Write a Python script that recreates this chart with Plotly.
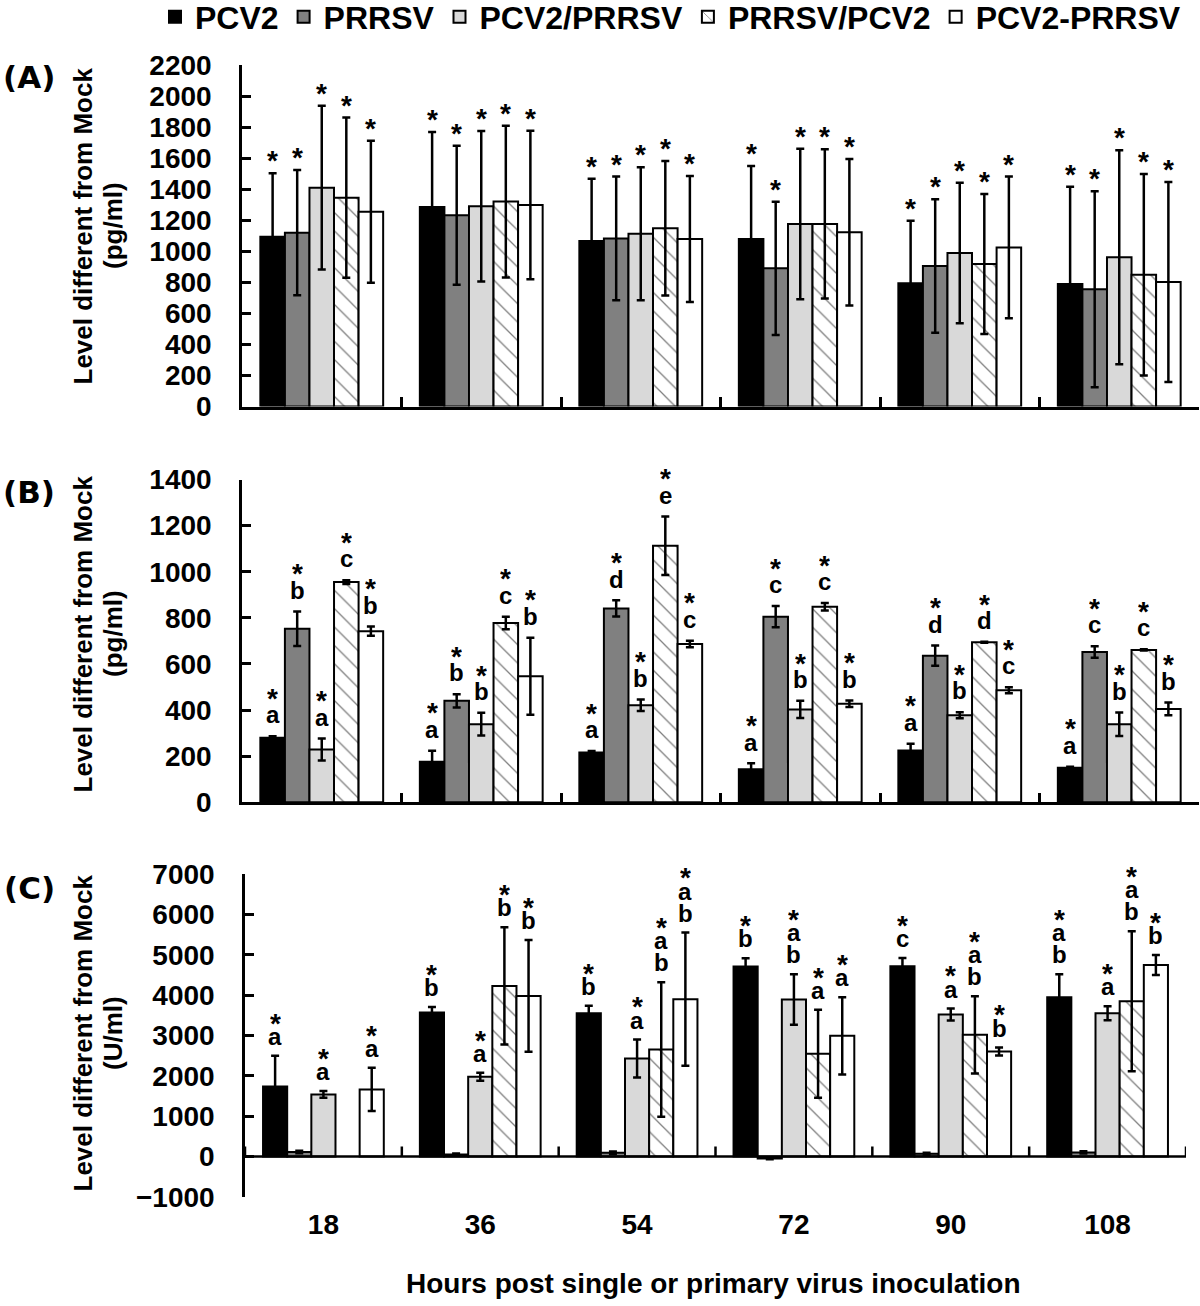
import plotly.graph_objects as go

hours = ["18", "36", "54", "72", "90", "108"]
series = ["PCV2", "PRRSV", "PCV2/PRRSV", "PRRSV/PCV2", "PCV2-PRRSV"]

# Panel A (pg/ml)
A_pcv2 = [1094, 1285, 1066, 1079, 794, 789]
A_prrsv = [1120, 1232, 1083, 890, 905, 755]
A_pcv2_prrsv = [1410, 1290, 1113, 1176, 989, 961]
A_prrsv_pcv2 = [1345, 1320, 1148, 1176, 918, 849]
A_co = [1255, 1298, 1079, 1122, 1025, 802]
A_pcv2_err = [408, 483, 402, 470, 403, 627]
A_prrsv_err = [404, 448, 398, 429, 430, 631]
A_pcv2_prrsv_err = [528, 485, 428, 485, 453, 689]
A_prrsv_pcv2_err = [516, 489, 433, 481, 451, 649]
A_co_err = [457, 479, 406, 472, 456, 644]

# Panel B (pg/ml)
B_pcv2 = [280, 176, 216, 143, 225, 150]
B_prrsv = [753, 440, 841, 805, 636, 652]
B_pcv2_prrsv = [229, 339, 421, 403, 378, 339]
B_prrsv_pcv2 = [955, 778, 1113, 848, 694, 661]
B_co = [742, 547, 687, 427, 486, 405]
B_pcv2_err = [7, 48, 6, 26, 29, 4]
B_prrsv_err = [75, 29, 35, 46, 44, 25]
B_pcv2_prrsv_err = [48, 49, 25, 37, 13, 51]
B_prrsv_pcv2_err = [8, 27, 127, 16, 2, 3]
B_co_err = [20, 167, 14, 14, 13, 28]
B_pcv2_lab = ["a", "a", "a", "a", "a", "a"]
B_prrsv_lab = ["b", "b", "d", "c", "d", "c"]
B_pcv2_prrsv_lab = ["a", "b", "b", "b", "b", "b"]
B_prrsv_pcv2_lab = ["c", "c", "e", "c", "d", "c"]
B_co_lab = ["b", "b", "c", "b", "c", "b"]

# Panel C (U/ml)
C_pcv2 = [1735, 3570, 3554, 4710, 4719, 3950]
C_prrsv = [110, 50, 90, -50, 66, 99]
C_pcv2_prrsv = [1537, 1975, 2430, 3892, 3520, 3554]
C_prrsv_pcv2 = [None, 4231, 2653, 2545, 3016, 3851]
C_co = [1661, 3983, 3901, 2992, 2603, 4752]
C_pcv2_err = [760, 140, 182, 207, 207, 570]
C_prrsv_err = [30, 20, 30, 20, 25, 30]
C_pcv2_prrsv_err = [83, 99, 471, 628, 149, 173]
C_prrsv_pcv2_err = [None, 1455, 1669, 1091, 959, 1735]
C_co_err = [537, 1389, 1653, 958, 99, 248]
C_pcv2_lab = ["a", "b", "b", "b", "c", "ab"]
C_prrsv_lab = [None, None, None, None, None, None]
C_pcv2_prrsv_lab = ["a", "a", "a", "ab", "a", "a"]
C_prrsv_pcv2_lab = [None, "b", "ab", "a", "ab", "ab"]
C_co_lab = ["a", "b", "ab", "a", "b", "b"]

A_means = [A_pcv2, A_prrsv, A_pcv2_prrsv, A_prrsv_pcv2, A_co]
A_errs = [A_pcv2_err, A_prrsv_err, A_pcv2_prrsv_err, A_prrsv_pcv2_err, A_co_err]
A_labs = [[""] * 6 for _ in series]
B_means = [B_pcv2, B_prrsv, B_pcv2_prrsv, B_prrsv_pcv2, B_co]
B_errs = [B_pcv2_err, B_prrsv_err, B_pcv2_prrsv_err, B_prrsv_pcv2_err, B_co_err]
B_labs = [B_pcv2_lab, B_prrsv_lab, B_pcv2_prrsv_lab, B_prrsv_pcv2_lab, B_co_lab]
C_means = [C_pcv2, C_prrsv, C_pcv2_prrsv, C_prrsv_pcv2, C_co]
C_errs = [C_pcv2_err, C_prrsv_err, C_pcv2_prrsv_err, C_prrsv_pcv2_err, C_co_err]
C_labs = [C_pcv2_lab, C_prrsv_lab, C_pcv2_prrsv_lab, C_prrsv_pcv2_lab, C_co_lab]

colors = ["#000000", "#808080", "#d9d9d9", "#ffffff", "#ffffff"]
W, H = 1200, 1306
FONT = "Liberation Sans"
BARGAP = 0.23

# panel geometry in pixels
xdom_px = [(242, 1199), (242, 1199), (245, 1186)]
ydom_px = [(65, 406.5), (479.5, 802.3), (874.3, 1196.7)]
yranges = [[0, 2200], [0, 1400], [-1000, 7000]]
dticks = [200, 200, 1000]

fig = go.Figure()

panels = [(A_means, A_errs, A_labs), (B_means, B_errs, B_labs), (C_means, C_errs, C_labs)]
axis_ids = [("x", "y"), ("x2", "y2"), ("x3", "y3")]

for p, (means, errs, labs) in enumerate(panels):
    xa, ya = axis_ids[p]
    for i, s in enumerate(series):
        pattern = dict(shape="\\", fgcolor="black", bgcolor="white", size=13, solidity=0.1) if i == 3 else dict(shape="")
        fig.add_trace(go.Bar(
            x=hours, y=means[i], name=s, legendgroup=s, showlegend=(p == 0),
            xaxis=xa, yaxis=ya, offsetgroup=str(i),
            marker=dict(color=colors[i], line=dict(color="black", width=2), pattern=pattern),
            error_y=dict(type="data", array=errs[i], visible=True, color="black", thickness=2.5, width=4),
        ))

LETTER_FONT = dict(family=FONT, size=24, color="black", weight="bold")
STAR_FONT = dict(family=FONT, size=28, color="black", weight="bold")

annotations = []
for p, (means, errs, labs) in enumerate(panels):
    xa, ya = axis_ids[p]
    gw = (xdom_px[p][1] - xdom_px[p][0]) / len(hours)
    bw = gw * (1 - BARGAP) / len(series)
    for i in range(len(series)):
        for j, h in enumerate(hours):
            m = means[i][j]
            if m is None:
                continue
            lab = labs[i][j]
            if lab is None:
                continue
            top = m + (errs[i][j] or 0)
            xs = (i - 2) * bw
            if p == 0:
                annotations.append(dict(x=j, y=top, xref=xa, yref=ya, xshift=xs, yshift=-5,
                                        yanchor="bottom", showarrow=False, text="*",
                                        font=STAR_FONT))
                continue
            gapL, stepL, stepS = (12, 23, 15) if p == 1 else (10, 22, 12)
            letters = list(lab)[::-1]
            for k, ch in enumerate(letters):
                base = gapL + k * stepL
                annotations.append(dict(x=j, y=top, xref=xa, yref=ya, xshift=xs, yshift=base - 1.2,
                                        yanchor="bottom", showarrow=False, text=ch, borderpad=0,
                                        height=19, valign="middle", font=LETTER_FONT))
            n = len(letters)
            sbase = gapL + (n - 1) * stepL + stepS
            annotations.append(dict(x=j, y=top, xref=xa, yref=ya, xshift=xs, yshift=sbase + 8.3,
                                    yanchor="bottom", showarrow=False, text="*", borderpad=0,
                                    height=17, valign="top", font=STAR_FONT))

# y-axis titles and panel letters
units = ["(pg/ml)", "(pg/ml)", "(U/ml)"]
title_cy = [226, 634, 1033]
panel_tags = ["(A)", "(B)", "(C)"]
tag_cy = [77, 492, 888]
for p in range(3):
    annotations.append(dict(x=82.5 / W, y=1 - title_cy[p] / H, xref="paper", yref="paper",
                            text="Level different from Mock", textangle=-90, showarrow=False,
                            xanchor="center", yanchor="middle",
                            font=dict(family=FONT, size=26, color="black", weight="bold")))
    annotations.append(dict(x=113 / W, y=1 - title_cy[p] / H, xref="paper", yref="paper",
                            text=units[p], textangle=-90, showarrow=False,
                            xanchor="center", yanchor="middle",
                            font=dict(family=FONT, size=26, color="black", weight="bold")))
    annotations.append(dict(x=29 / W, y=1 - tag_cy[p] / H, xref="paper", yref="paper",
                            text=panel_tags[p], showarrow=False, xanchor="center", yanchor="middle",
                            font=dict(family="DejaVu Sans", size=31, color="black", weight="bold")))

annotations.append(dict(x=713 / W, y=1 - 1283 / H, xref="paper", yref="paper",
                        text="Hours post single or primary virus inoculation", showarrow=False,
                        xanchor="center", yanchor="middle",
                        font=dict(family=FONT, size=28, color="black", weight="bold")))

# zero line and group boundary ticks for panel C
shapes = [dict(type="line", xref="x3 domain", yref="y3", x0=0, x1=1, y0=0, y1=0,
               line=dict(color="black", width=2.5))]
for b in range(len(hours) + 1):
    shapes.append(dict(type="line", xref="x3", yref="y3", x0=b - 0.5, x1=b - 0.5,
                       ysizemode="pixel", yanchor=0, y0=0, y1=10,
                       line=dict(color="black", width=2.5)))

layout = dict(
    width=W, height=H, margin=dict(l=0, r=0, t=0, b=0, autoexpand=False),
    paper_bgcolor="white", plot_bgcolor="white",
    barmode="group", bargap=BARGAP, bargroupgap=0,
    annotations=annotations, shapes=shapes,
    legend=dict(orientation="h", x=155 / W, xanchor="left", y=1 - 17 / H, yanchor="middle",
                font=dict(family=FONT, size=32, color="black", weight="bold"),
                itemsizing="constant", traceorder="normal", bgcolor="rgba(0,0,0,0)"),
)

for p in range(3):
    sfx = "" if p == 0 else str(p + 1)
    xd = [xdom_px[p][0] / W, xdom_px[p][1] / W]
    yd = [1 - ydom_px[p][1] / H, 1 - ydom_px[p][0] / H]
    xaxis = dict(domain=xd, anchor="y" + sfx, type="category", range=[-0.5, len(hours) - 0.5],
                 autorange=False, showgrid=False, zeroline=False,
                 automargin=False, fixedrange=True)
    if p < 2:
        xaxis.update(showline=True, linecolor="black", linewidth=2.5, ticks="inside",
                     tickson="boundaries", ticklen=10, tickwidth=2.5, tickcolor="black",
                     showticklabels=False)
    else:
        xaxis.update(showline=False, ticks="", showticklabels=True, ticklabelstandoff=8,
                     tickangle=0,
                     tickfont=dict(family=FONT, size=28, color="black", weight="bold"))
    yaxis = dict(domain=yd, anchor="x" + sfx, range=yranges[p], autorange=False,
                 dtick=dticks[p], tick0=0,
                 showgrid=False, zeroline=False, showline=True, linecolor="black", linewidth=2.5,
                 ticks="inside", ticklen=9, tickwidth=2.5, tickcolor="black",
                 ticklabelstandoff=22, automargin=False, fixedrange=True,
                 tickfont=dict(family=FONT, size=28, color="black", weight="bold"))
    layout["xaxis" + sfx] = xaxis
    layout["yaxis" + sfx] = yaxis

fig.update_layout(**layout)
fig.write_html("out.html", config={"displayModeBar": False},
               post_script="document.body.style.margin='0';document.body.style.padding='0';"
                           "document.documentElement.style.overflow='hidden';")
